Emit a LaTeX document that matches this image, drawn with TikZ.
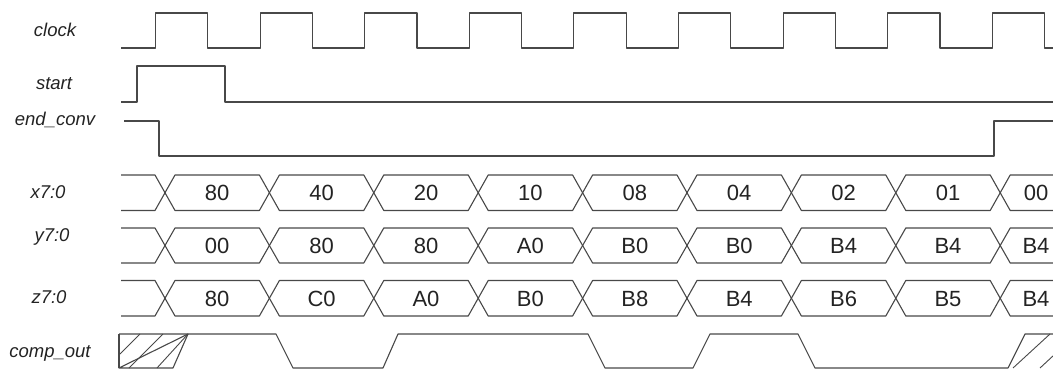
\documentclass[tikz,border=0pt]{standalone}
\usepackage{fontspec}
\setmainfont{Liberation Sans}
\usetikzlibrary{calc}
\definecolor{wave}{RGB}{72, 72, 72}
\definecolor{ink}{RGB}{35, 35, 35}
\tikzset{
    sig/.style={draw=wave, line width=1.1pt, line join=round},
    hatch/.style={draw=wave, line width=0.9pt},
    lbl/.style={font=\fontsize{18.5}{20}\selectfont\itshape, text=ink, anchor=base, inner sep=0pt},
    val/.style={font=\fontsize{22}{24}\selectfont, text=ink, anchor=base, inner sep=0pt}
}
\begin{document}
\begin{tikzpicture}[x=1pt, y=-1pt]
    \useasboundingbox (0,0) rectangle (1053,369);
    \clip (0,0) rectangle (1053,369);
    % signal names
    \node[lbl] (nclock) at (55,37) {clock};
    \node[lbl] (nstart) at (54,90) {start};
    \node[lbl] (nend) at (55,125) {end\_conv};
    \node[lbl] (nx) at (48,198) {x7:0};
    \node[lbl] (ny) at (52,241) {y7:0};
    \node[lbl] (nz) at (49,303) {z7:0};
    \node[lbl] (ncomp) at (50,357) {comp\_out};
    % clock
    \draw[sig] (121,48) \foreach \k in {0,...,8} { -- ({155.5+104.6*\k},48) -- ++(0,-35) -- ++(52.3,0) -- ++(0,35) } -- (1053,48);
    % start, end_conv
    \draw[sig] (121,102) -- (137,102) -- (137,66) -- (225,66) -- (225,102) -- (1053,102);
    \draw[sig] (124,121) -- (159,121) -- (159,156) -- (994,156) -- (994,121) -- (1053,121);
    % buses
    \foreach \t/\b/\nm/\vals in {175/210.5/x/{80,40,20,10,08,04,02,01,00},
                                  228/263/y/{00,80,80,A0,B0,B0,B4,B4,B4},
                                  280.5/316/z/{80,C0,A0,B0,B8,B4,B6,B5,B4}} {
        \pgfmathsetmacro\m{(\t+\b)/2}
        \draw[sig] (121,\t) -- (155,\t) -- (165,\m) -- (155,\b) -- (121,\b);
        \foreach \v [count=\k from 0] in \vals {
            \pgfmathsetmacro\ca{165+104.4*\k}
            \pgfmathsetmacro\cb{\ca+104.4}
            \pgfmathsetmacro\cx{min(\ca+52.2,1036)}
            \draw[sig] (\ca,\m) -- (\ca+10,\t) -- (\cb-10,\t) -- (\cb,\m) -- (\cb-10,\b) -- (\ca+10,\b) -- cycle;
            \node[val] (\nm\k) at (\cx,\m+8) {\v};
        }
    }
    % comp_out
    \draw[sig] (119,334) -- (276,334) -- (293,368) -- (383,368) -- (398,334) -- (588,334) -- (605,368)
        -- (693,368) -- (710,334) -- (798,334) -- (815,368) -- (1008,368) -- (1025,334) -- (1053,334);
    \draw[sig] (188,334) -- (173,368) -- (119,368) -- cycle;
    \draw[sig] (119,334) -- (119,368);
    \draw[hatch] (120,354) -- (140,334) (129,368) -- (163,334) (157,368) -- (188,334);
    \draw[hatch] (1013,368) -- (1050,334) (1040,368) -- (1054,355);
\end{tikzpicture}
\end{document}
